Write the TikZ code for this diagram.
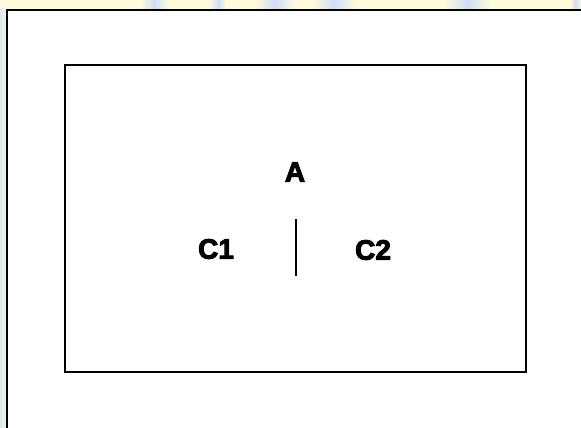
\documentclass[tikz,border=0pt]{standalone}
\usepackage{fontspec}
\setmainfont{Liberation Sans}[BoldFeatures={FakeBold=3.5}]
\definecolor{stripY}{HTML}{FDFBDC}
\definecolor{stripB}{HTML}{CFDDF5}
\definecolor{stripL}{HTML}{DCEBF0}
\begin{document}
\begin{tikzpicture}[x=1pt,y=-1pt,
  lbl/.style={inner sep=0pt,font=\fontsize{28}{32}\selectfont\bfseries},
  frame/.style={draw=black,line width=2pt}]
\useasboundingbox (0,0) rectangle (581,428);
\fill[white] (0,0) rectangle (581,428);
% top strip
\fill[stripY] (0,0) rectangle (581,9);
\foreach \a/\b in {140/168,210/226,255/295,312/356,445/490,570/581}{
  \shade[left color=stripY,right color=stripY,middle color=stripB] (\a,0) rectangle (\b,9);
}
% left strip
\shade[left color=stripL!80!gray!60,right color=stripL!40] (0,9) rectangle (6,428);
% outer frame
\draw[frame] (7,440) -- (7,10) -- (590,10);
% inner box
\draw[frame] (65,65) rectangle (526,372);
\node[lbl] (A) at (295,172) {A};
\node[lbl] (C1) at (216,249) {C1};
\node[lbl] (C2) at (373,250) {C2};
\coordinate (s1) at (296,219);
\coordinate (s2) at (296,276);
\draw[line width=1.3pt] (s1) -- (s2);
\end{tikzpicture}
\end{document}
